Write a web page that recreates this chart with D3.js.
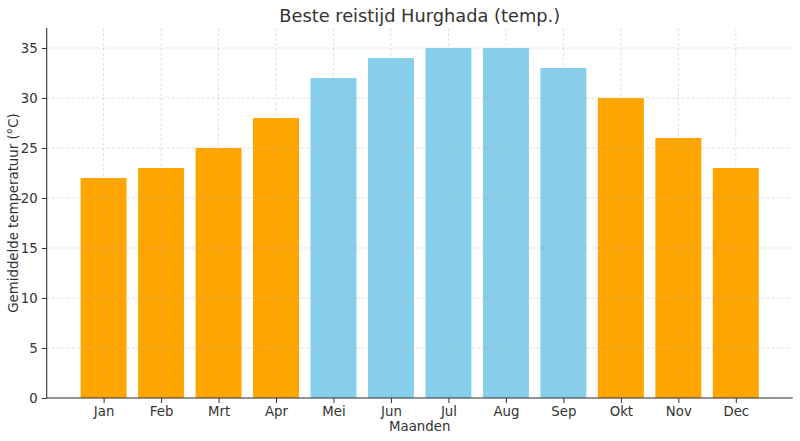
<!DOCTYPE html>
<html><head><meta charset="utf-8">
<script src="https://cdn.jsdelivr.net/npm/d3@7"></script>
<style>body{margin:0;background:#fff}svg{display:block}text{font-family:"DejaVu Sans",sans-serif;fill:#333}</style>
</head><body><svg id="c" width="800" height="441"></svg>
<script>
const months = ["Jan","Feb","Mrt","Apr","Mei","Jun","Jul","Aug","Sep","Okt","Nov","Dec"];
const temps = [22,23,25,28,32,34,35,35,33,30,26,23];
const colors = ["orange","orange","orange","orange","skyblue","skyblue","skyblue","skyblue","skyblue","orange","orange","orange"];
const yTicks = [0,5,10,15,20,25,30,35];
const title = "Beste reistijd Hurghada (temp.)";
const xLabel = "Maanden";
const yLabel = "Gemiddelde temperatuur (°C)";

const svg = d3.select("#c");
const L = 46.7, R = 792.7, T = 28, B = 398;
const x = d3.scaleLinear().domain([-0.99, 11.99]).range([L, R]);
const y = d3.scaleLinear().domain([0, 37]).range([B, T]);
const bw = x(0.4) - x(-0.4);

svg.append("g").selectAll("rect").data(temps).join("rect")
  .attr("x", (d,i) => x(i) - bw/2).attr("width", bw)
  .attr("y", d => y(d)).attr("height", d => B - y(d))
  .attr("fill", (d,i) => colors[i]);

const grid = svg.append("g").attr("stroke", "#b0b0b0").attr("stroke-opacity", 0.5)
  .attr("stroke-width", 0.8).attr("stroke-dasharray", "3,2");
grid.selectAll("line.h").data(yTicks).join("line").attr("class","h")
  .attr("x1", L).attr("x2", R).attr("y1", d => y(d)).attr("y2", d => y(d));
grid.selectAll("line.v").data(months).join("line").attr("class","v")
  .attr("x1", (d,i) => x(i)).attr("x2", (d,i) => x(i)).attr("y1", T).attr("y2", B);

const xAxis = svg.append("g").attr("transform", `translate(0,${B})`)
  .call(d3.axisBottom(x).tickValues(d3.range(months.length)).tickFormat(i => months[i]).tickSize(5).tickPadding(4).tickSizeOuter(0));
const yAxis = svg.append("g").attr("transform", `translate(${L},0)`)
  .call(d3.axisLeft(y).tickValues(yTicks).tickSize(5).tickPadding(4).tickSizeOuter(0));
[xAxis, yAxis].forEach(a => {
  a.select(".domain").attr("stroke", "#333").attr("stroke-width", 1.1);
  a.selectAll(".tick line").attr("stroke", "#333");
  a.selectAll(".tick text").attr("font-size", 13.3).attr("fill", "#333").attr("font-family", "DejaVu Sans");
});
yAxis.select(".domain").attr("d", `M0,${B}V${T}`);
xAxis.select(".domain").attr("d", `M${L},0H${R}`);

svg.append("text").attr("x", (L+R)/2).attr("y", 22).attr("text-anchor","middle")
  .attr("font-size", 17.8).text(title);
svg.append("text").attr("x", (L+R)/2).attr("y", 431).attr("text-anchor","middle")
  .attr("font-size", 13.3).text(xLabel);
svg.append("text").attr("transform", `translate(18,${(T+B)/2}) rotate(-90)`).attr("text-anchor","middle")
  .attr("font-size", 13.3).text(yLabel);
</script></body></html>
